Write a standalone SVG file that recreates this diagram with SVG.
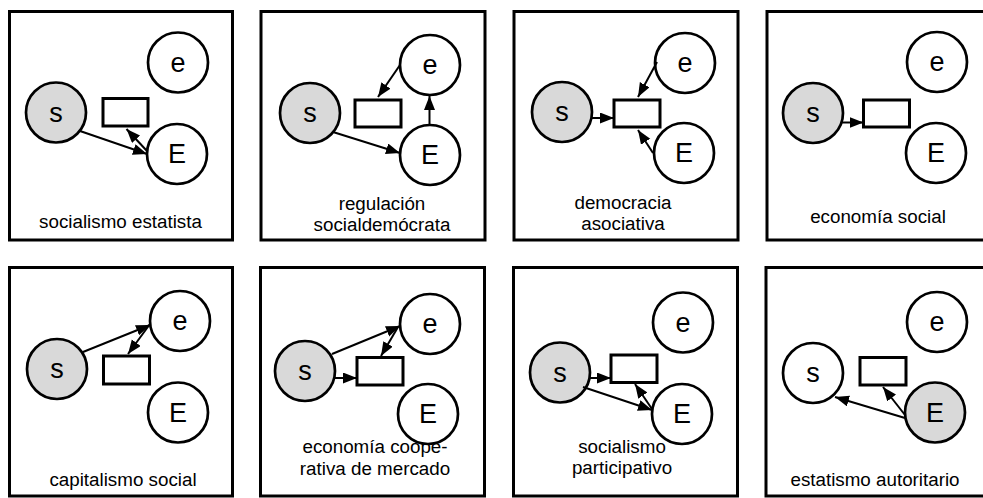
<svg xmlns="http://www.w3.org/2000/svg" width="983" height="498" viewBox="0 0 983 498">
<defs>
<style>
.frame{fill:#fff;stroke:#000;stroke-width:3}
.c{fill:#fff;stroke:#000;stroke-width:2.7}
.g{fill:#d9d9d9}
.box{fill:#fff;stroke:#000;stroke-width:3}
.nl{font-family:"Liberation Sans",Arial,sans-serif;font-size:27px;text-anchor:middle;dominant-baseline:central;fill:#000}
.lb{font-family:"Liberation Sans",Arial,sans-serif;font-size:18.8px;text-anchor:middle;fill:#000}
.a{stroke:#000;stroke-width:2;fill:none;marker-end:url(#ah)}
</style>
<marker id="ah" markerUnits="userSpaceOnUse" markerWidth="15" markerHeight="12" refX="14" refY="5.5" orient="auto">
<path d="M0,0 L14,5.5 L0,11 z" fill="#000"/>
</marker>
</defs>
<rect width="983" height="498" fill="#fff"/>

<g id="panel1">
<rect class="frame" x="9.5" y="11.5" width="223" height="228.5"/>
<g id="p1-s"><circle class="c g" cx="56" cy="112.5" r="30"/><text class="nl" x="56" y="112.5">s</text></g>
<g id="p1-e"><circle class="c" cx="178" cy="62.5" r="30"/><text class="nl" x="178" y="62.5">e</text></g>
<g id="p1-E"><circle class="c" cx="177" cy="154" r="30"/><text class="nl" x="177" y="154">E</text></g>
<g id="p1-box"><rect class="box" x="103" y="98.5" width="45" height="27.5"/></g>
<g id="p1-label"><text class="lb" x="120.5" y="228">socialismo estatista</text></g>
</g>

<g id="panel2">
<rect class="frame" x="261" y="11.5" width="224" height="228.5"/>
<g id="p2-s"><circle class="c g" cx="310" cy="113" r="30"/><text class="nl" x="310" y="113">s</text></g>
<g id="p2-e"><circle class="c" cx="430" cy="65" r="30"/><text class="nl" x="430" y="65">e</text></g>
<g id="p2-E"><circle class="c" cx="430" cy="155" r="30"/><text class="nl" x="430" y="155">E</text></g>
<g id="p2-box"><rect class="box" x="355" y="100" width="46" height="27"/></g>
<g id="p2-label"><text class="lb" x="382" y="210">regulación</text><text class="lb" x="382" y="231">socialdemócrata</text></g>
</g>

<g id="panel3">
<rect class="frame" x="514" y="11.5" width="224" height="228.5"/>
<g id="p3-s"><circle class="c g" cx="562" cy="112" r="30"/><text class="nl" x="562" y="112">s</text></g>
<g id="p3-e"><circle class="c" cx="685" cy="63" r="30"/><text class="nl" x="685" y="63">e</text></g>
<g id="p3-E"><circle class="c" cx="684" cy="153" r="30"/><text class="nl" x="684" y="153">E</text></g>
<g id="p3-box"><rect class="box" x="614" y="100" width="46" height="27"/></g>
<g id="p3-label"><text class="lb" x="623" y="209">democracia</text><text class="lb" x="623" y="230">asociativa</text></g>
</g>

<g id="panel4">
<rect class="frame" x="767" y="11.5" width="224" height="228.5"/>
<g id="p4-s"><circle class="c g" cx="813" cy="113" r="30"/><text class="nl" x="813" y="113">s</text></g>
<g id="p4-e"><circle class="c" cx="937" cy="62" r="30"/><text class="nl" x="937" y="62">e</text></g>
<g id="p4-E"><circle class="c" cx="936" cy="153" r="30"/><text class="nl" x="936" y="153">E</text></g>
<g id="p4-box"><rect class="box" x="863.5" y="100" width="46" height="27"/></g>
<g id="p4-label"><text class="lb" x="878" y="223">economía social</text></g>
</g>

<g id="panel5">
<rect class="frame" x="9.5" y="267.5" width="223" height="228.5"/>
<g id="p5-s"><circle class="c g" cx="57" cy="369" r="30"/><text class="nl" x="57" y="369">s</text></g>
<g id="p5-e"><circle class="c" cx="180" cy="321" r="30"/><text class="nl" x="180" y="321">e</text></g>
<g id="p5-E"><circle class="c" cx="178" cy="412.5" r="30"/><text class="nl" x="178" y="412.5">E</text></g>
<g id="p5-box"><rect class="box" x="103.5" y="356" width="46" height="28"/></g>
<g id="p5-label"><text class="lb" x="123" y="486">capitalismo social</text></g>
</g>

<g id="panel6">
<rect class="frame" x="260.5" y="267.5" width="224" height="228.5"/>
<g id="p6-s"><circle class="c g" cx="305" cy="371" r="30"/><text class="nl" x="305" y="371">s</text></g>
<g id="p6-e"><circle class="c" cx="430" cy="324" r="30"/><text class="nl" x="430" y="324">e</text></g>
<g id="p6-E"><circle class="c" cx="428" cy="414" r="30"/><text class="nl" x="428" y="414">E</text></g>
<g id="p6-box"><rect class="box" x="357" y="357.5" width="46" height="27.5"/></g>
<g id="p6-label"><text class="lb" x="375" y="453">economía coope-</text><text class="lb" x="375" y="475">rativa de mercado</text></g>
</g>

<g id="panel7">
<rect class="frame" x="513.5" y="267.5" width="224" height="228.5"/>
<g id="p7-s"><circle class="c g" cx="560" cy="372.5" r="30"/><text class="nl" x="560" y="372.5">s</text></g>
<g id="p7-e"><circle class="c" cx="683" cy="322.5" r="30"/><text class="nl" x="683" y="322.5">e</text></g>
<g id="p7-E"><circle class="c" cx="682" cy="414" r="30"/><text class="nl" x="682" y="414">E</text></g>
<g id="p7-box"><rect class="box" x="611" y="355" width="46" height="27.5"/></g>
<g id="p7-label"><text class="lb" x="622" y="453">socialismo</text><text class="lb" x="622" y="474">participativo</text></g>
</g>

<g id="panel8">
<rect class="frame" x="766" y="267.5" width="224" height="228.5"/>
<g id="p8-s"><circle class="c" cx="813" cy="373" r="30"/><text class="nl" x="813" y="373">s</text></g>
<g id="p8-e"><circle class="c" cx="937" cy="322" r="30"/><text class="nl" x="937" y="322">e</text></g>
<g id="p8-E"><circle class="c g" cx="935" cy="412.5" r="30"/><text class="nl" x="935" y="412.5">E</text></g>
<g id="p8-box"><rect class="box" x="860" y="357.5" width="46" height="27.5"/></g>
<g id="p8-label"><text class="lb" x="875" y="486">estatismo autoritario</text></g>
</g>

<g id="connectors">
<line class="a" x1="80" y1="131" x2="147" y2="154"/>
<line class="a" x1="147" y1="151" x2="126.5" y2="129"/>

<line class="a" x1="333" y1="132" x2="400" y2="153"/>
<line class="a" x1="400" y1="65" x2="378" y2="97"/>
<line class="a" x1="429.5" y1="126" x2="429.5" y2="96"/>

<line class="a" x1="591" y1="118" x2="614" y2="118"/>
<line class="a" x1="657" y1="62" x2="638" y2="97"/>
<line class="a" x1="653" y1="153" x2="638" y2="130"/>

<line class="a" x1="842" y1="122.5" x2="863.5" y2="122.5"/>

<line class="a" x1="83" y1="352" x2="150" y2="325"/>
<line class="a" x1="150" y1="324" x2="128" y2="354"/>

<line class="a" x1="332" y1="354" x2="400" y2="326"/>
<line class="a" x1="398" y1="327" x2="381" y2="356"/>
<line class="a" x1="334" y1="378" x2="357" y2="378"/>

<line class="a" x1="589" y1="378" x2="611" y2="378"/>
<line class="a" x1="583" y1="387" x2="652" y2="410"/>
<line class="a" x1="652" y1="409" x2="635" y2="384"/>

<line class="a" x1="905" y1="418" x2="835" y2="397"/>
<line class="a" x1="905" y1="415" x2="883" y2="387"/>
</g>
</svg>
